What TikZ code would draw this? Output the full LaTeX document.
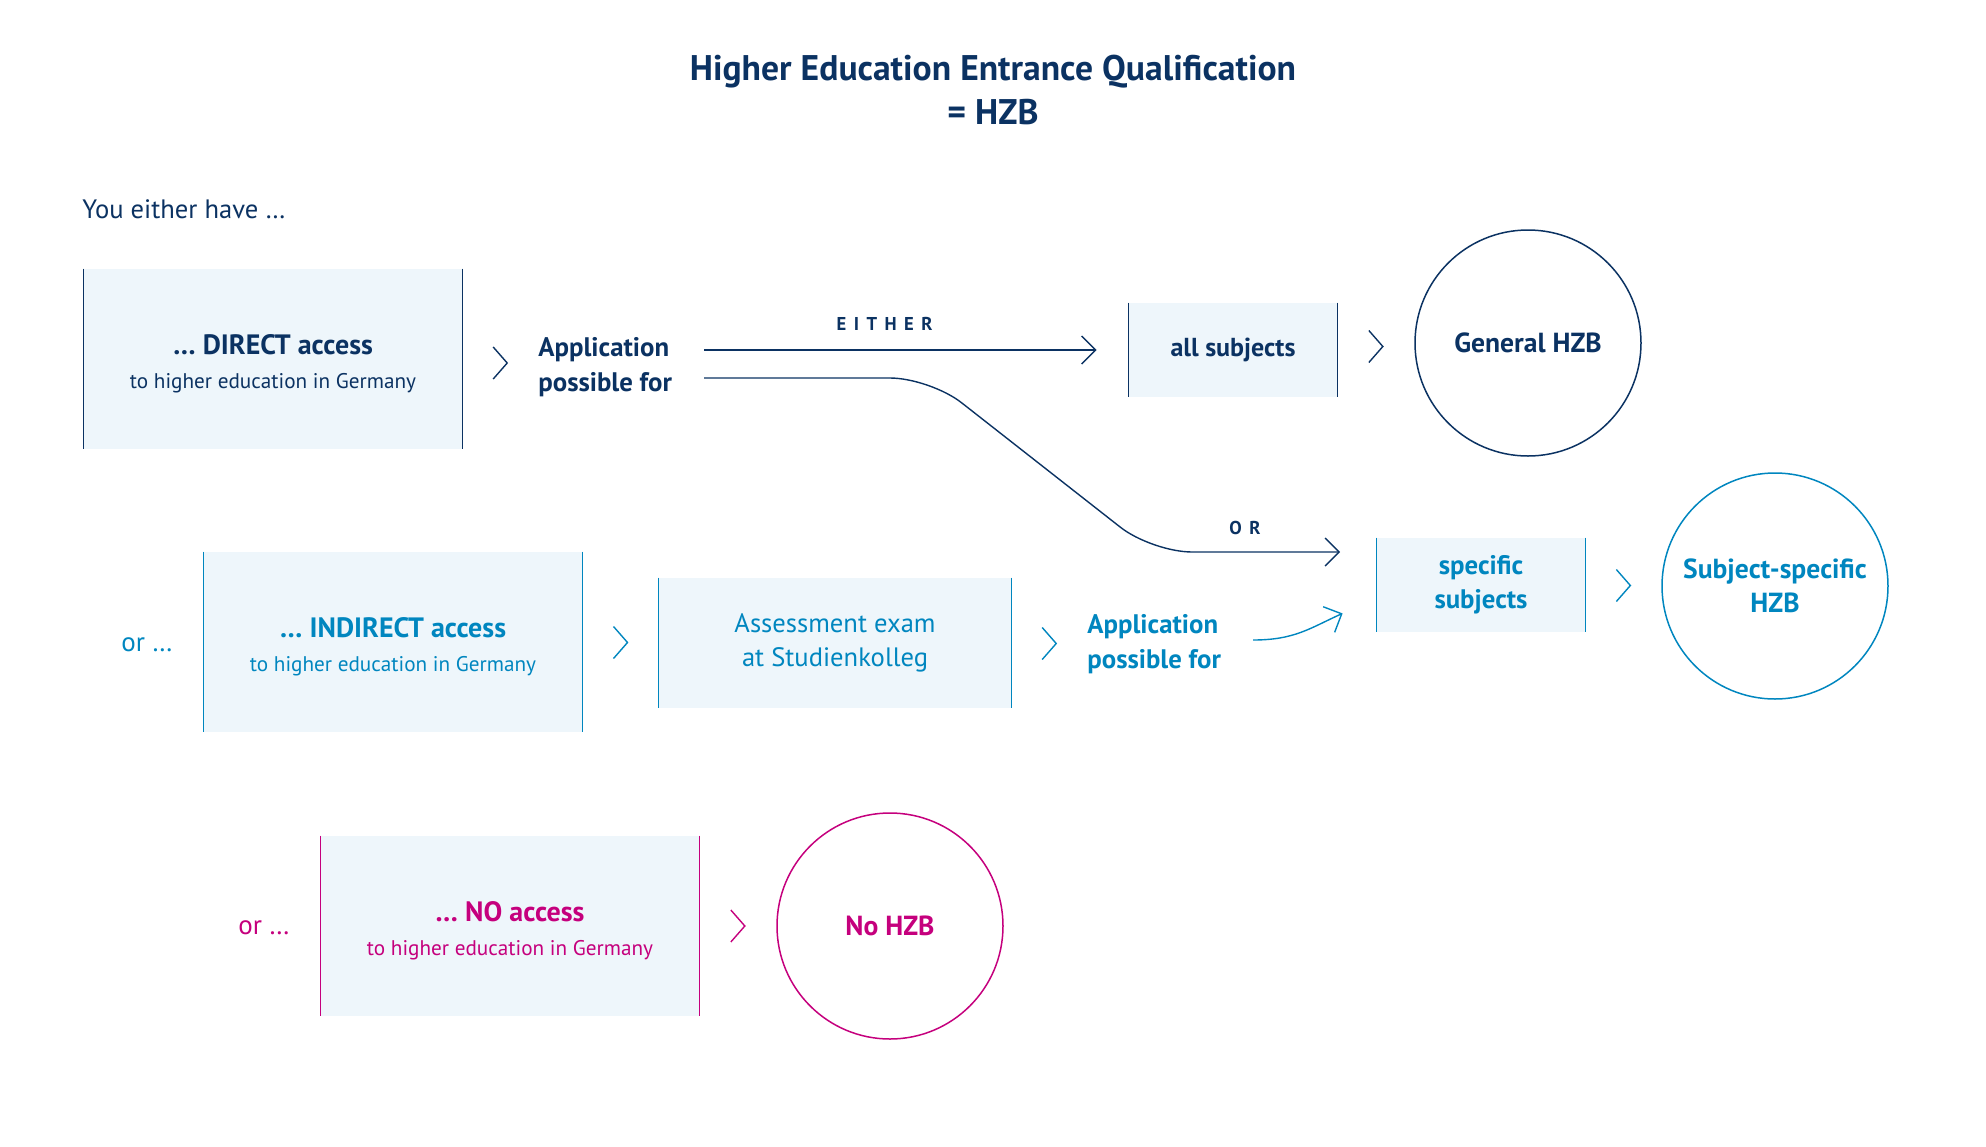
\documentclass[tikz,border=0pt]{standalone}
\usepackage{fontspec}
\setmainfont{PT Sans}
\usetikzlibrary{arrows.meta,calc}
\definecolor{navy}{HTML}{0B3262}
\definecolor{sky}{HTML}{0086BF}
\definecolor{mag}{HTML}{C5007D}
\definecolor{boxfill}{HTML}{EEF6FB}
\newcommand\sidelines[2]{\draw[#2,line width=0.75pt] (#1.north west)--(#1.south west) (#1.north east)--(#1.south east);}
\newcommand\chevron[3]{\path (#1) -- (#2) coordinate[pos=0.5] (chv);
  \draw[#3,line width=0.7pt,line join=miter] ($(chv)+(-7,-16)$) -- ($(chv)+(7,0)$) -- ($(chv)+(-7,16)$);}
\newcommand\boxtext[2]{{\fontsize{14}{18}\selectfont\bfseries\rule{0pt}{15pt}#1}\\[5pt]{\fontsize{10.6}{12}\selectfont #2}}
\begin{document}
\begin{tikzpicture}[x=0.5pt,y=-0.5pt,
  bigbox/.style={fill=boxfill,inner sep=0pt,align=center,minimum width=189pt,minimum height=90pt},
  smallbox/.style={fill=boxfill,inner sep=0pt,align=center,minimum width=104pt,minimum height=47pt},
  hzb/.style={circle,draw=#1,text=#1,line width=0.75pt,minimum size=113pt,inner sep=0pt,align=center,font=\fontsize{13.8}{17}\selectfont\bfseries},
  apptxt/.style={anchor=west,inner sep=0pt,align=left,font=\fontsize{13.4}{17.5}\selectfont\bfseries},
  arr/.style={line width=0.7pt,-{Straight Barb[length=7pt,width=14pt]}},
  lbl/.style={font=\fontsize{9.3}{10}\selectfont\bfseries\addfontfeature{LetterSpace=40},text=navy}]
\useasboundingbox (0,0) rectangle (1986,1146);
% title
\node[text=navy,align=center,font=\fontsize{17.8}{22}\selectfont\bfseries] (title) at (993,90) {Higher Education Entrance Qualification\\= HZB};
\node[anchor=west,inner sep=0pt,text=navy,font=\fontsize{13.3}{15}\selectfont] (you) at (82,209) {You either have …};
% row 1
\node[bigbox,text=navy] (direct) at (273,359) {\boxtext{… DIRECT access}{to higher education in Germany}};
\sidelines{direct}{navy}
\node[apptxt,text=navy] (app1) at (538,367) {Application\\possible for};
\chevron{direct.east}{app1.west}{navy}
\node[smallbox,text=navy,font=\fontsize{13}{15}\selectfont\bfseries] (allsub) at (1233,350) {all subjects};
\sidelines{allsub}{navy}
\node[hzb=navy] (gen) at (1528,343) {General HZB};
\chevron{allsub.east}{gen.west}{navy}
% row 2
\node[text=sky,font=\fontsize{13.5}{15}\selectfont] (or1) at (147,645) {or …};
\node[bigbox,text=sky] (indirect) at (393,642) {\boxtext{… INDIRECT access}{to higher education in Germany}};
\sidelines{indirect}{sky}
\node[fill=boxfill,inner sep=0pt,align=center,minimum width=176pt,minimum height=65pt,text=sky,font=\fontsize{13.3}{17}\selectfont] (assess) at (835,643) {Assessment exam\\at Studienkolleg};
\sidelines{assess}{sky}
\chevron{indirect.east}{assess.west}{sky}
\node[apptxt,text=sky] (app2) at (1087,644) {Application\\possible for};
\chevron{assess.east}{app2.west}{sky}
\node[smallbox,text=sky,font=\fontsize{13.4}{17}\selectfont\bfseries] (spec) at (1481,585) {specific\\subjects};
\sidelines{spec}{sky}
\node[hzb=sky] (subj) at (1775,586) {Subject-specific\\HZB};
\chevron{spec.east}{subj.west}{sky}
% row 3
\node[text=mag,font=\fontsize{13.5}{15}\selectfont] (or2) at (264,928) {or …};
\node[bigbox,text=mag] (noacc) at (510,926) {\boxtext{… NO access}{to higher education in Germany}};
\sidelines{noacc}{mag}
\node[hzb=mag] (nohzb) at (890,926) {No HZB};
\chevron{noacc.east}{nohzb.west}{mag}
% connectors
\coordinate (eitherstart) at (704,350);
\coordinate (orstart) at (704,378);
\coordinate (bendA) at (930,378);
\coordinate (bendB) at (1152,552);
\coordinate (orend) at (1340,552);
\draw[arr,navy] (eitherstart) -- ([xshift=-16pt]allsub.west) node[lbl,pos=0.46,above=6pt] (either) {EITHER};
\draw[arr,navy,rounded corners=20pt] (orstart) -- (bendA) -- (bendB) -- (orend);
\node[lbl] (orlbl) at (1245,528) {OR};
\coordinate (curvestart) at (1253,640);
\draw[arr,sky] (curvestart) .. controls (1295,640) and (1310,628) .. ([xshift=-17pt,yshift=9.5pt]spec.south west);
\end{tikzpicture}
\end{document}
